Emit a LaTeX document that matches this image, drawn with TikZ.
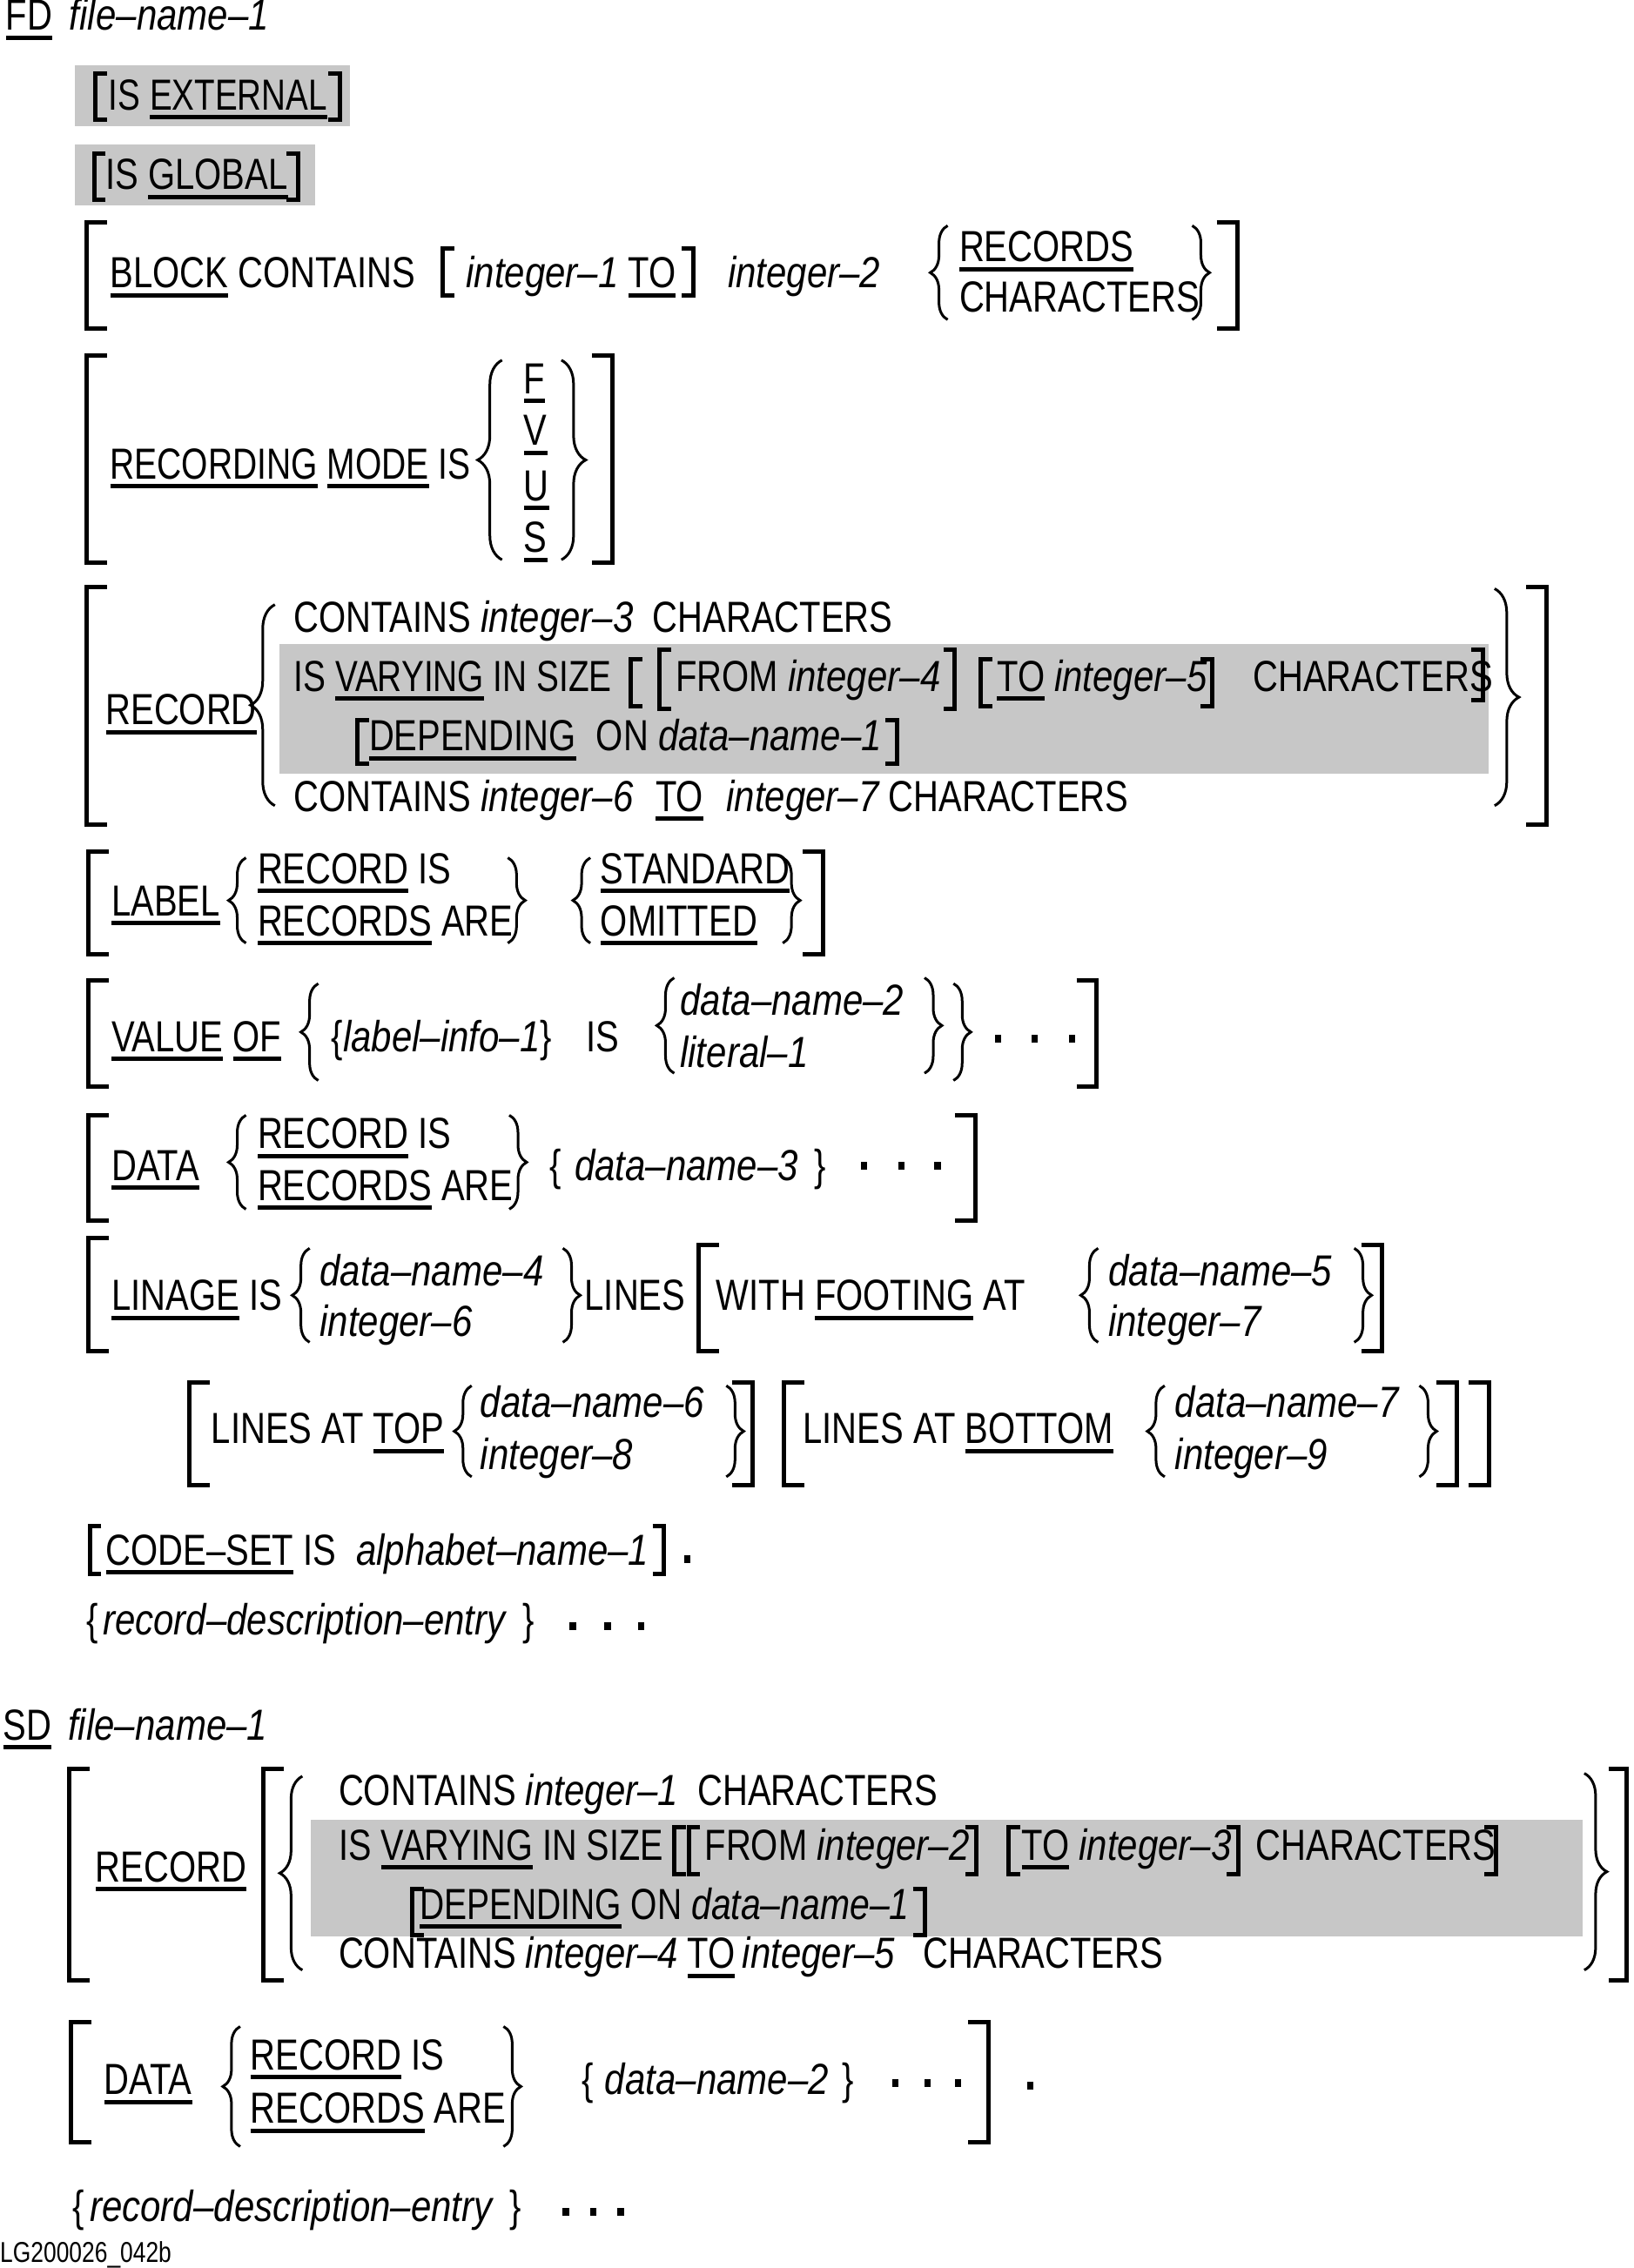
\documentclass[tikz,border=0pt]{standalone}
\usepackage{fontspec}
\setmainfont[FakeStretch=0.8,Ligatures=TeX]{Liberation Sans}
\newfontfamily\itfam[FakeStretch=0.84,Ligatures=TeX]{Liberation Sans}
\usetikzlibrary{decorations.pathreplacing}
\newcommand\kw[1]{\setbox0=\hbox{#1}\rlap{\vrule width\wd0 height -6pt depth 11pt}\box0\relax}
\newcommand\I[1]{{\itfam\itshape #1}}
\newcounter{tn}
\tikzset{
  t/.style={anchor=base west, inner sep=0pt, font=\fontsize{50}{60}\selectfont},
  brk/.style={line width=5pt, line join=miter},
  brc/.style={line width=3pt, decorate, decoration={brace, amplitude=#1}},
  brc/.default=20pt,
  shade/.style={fill=black!22},
}
\newcommand\T[3]{\stepcounter{tn}\node[t] (t\arabic{tn}) at (#1,#2) {#3};}
\newcommand\LB[4][8]{\draw[brk] (#2,#3) ++(#1,0) -- ++(-#1,0) -- (#2,#4) -- ++(#1,0);}
\newcommand\RB[4][8]{\draw[brk] (#2,#3) ++(-#1,0) -- ++(#1,0) -- (#2,#4) -- ++(-#1,0);}
\newcommand\LC[4][20pt]{\draw[brc=#1] (#2,#4) -- (#2,#3);}
\newcommand\RC[4][20pt]{\draw[brc=#1] (#2,#3) -- (#2,#4);}
\newcommand\Dot[2]{\fill (#1,#2) ++(-2.2,-2.7) rectangle ++(4.4,5.4);}
\begin{document}
\begin{tikzpicture}[x=1.6617pt,y=-1.6617pt]
\useasboundingbox (0,0) rectangle (1129,1568);
% shaded areas
\fill[shade] (52,45) rectangle (242,87);
\fill[shade] (52,100) rectangle (218,142);
\fill[shade] (193,445) rectangle (1029,535);
\fill[shade] (215,1258) rectangle (1094,1339);
% FD
\T{4}{21}{\kw{FD}}
\T{48}{21}{\I{file--name--1}}
% EXTERNAL
\LB{66}{51}{83}
\T{75}{76}{\scalebox{0.965}[1]{IS \kw{EXTERNAL}}}
\RB{235}{51}{83}
% GLOBAL
\LB{65}{106}{138}
\T{73}{131}{IS \kw{GLOBAL}}
\RB{206}{106}{138}
% BLOCK
\LB[14]{60}{154}{227}
\T{76}{199}{\kw{BLOCK} CONTAINS}
\LB{306}{172}{204}
\T{322}{199}{\I{integer--1} \kw{TO}}
\RB{479}{172}{204}
\T{503}{199}{\I{integer--2}}
\LC{655}{156}{221}
\T{663}{181}{\kw{RECORDS}}
\T{663}{216}{CHARACTERS}
\RC{824}{156}{221}
\RB[14]{855}{154}{227}
% RECORDING MODE
\LB[14]{60}{246}{389}
\T{76}{331}{\scalebox{0.975}[1]{\kw{RECORDING} \kw{MODE} IS}}
\LC[28pt]{347}{249}{387}
\T{362}{272}{\kw{F}}
\T{362}{308}{\kw{V}}
\T{362}{346}{\kw{U}}
\T{362}{382}{\kw{S}}
\RC[28pt]{388}{249}{387}
\RB[14]{423}{246}{389}
% RECORD
\LB[14]{60}{406}{570}
\T{73}{501}{\kw{RECORD}}
\LC[28pt]{190}{418}{557}
\T{203}{437}{CONTAINS \I{integer--3}\ \ CHARACTERS}
\T{203}{478}{\scalebox{0.97}[1]{IS \kw{VARYING} IN SIZE}}
\LB{436}{456}{488}
\LB{456}{449}{490}
\T{467}{478}{FROM \I{integer--4}}
\RB{660}{449}{490}
\LB{678}{456}{488}
\T{689}{478}{\kw{TO} \I{integer--5}}
\RB{838}{456}{488}
\T{866}{478}{CHARACTERS}
\RB{1025}{449}{484}
\LB{247}{498}{528}
\T{255}{519}{\kw{DEPENDING}}
\T{412}{519}{ON \I{data--name--1}}
\RB{620}{498}{528}
\T{203}{561}{CONTAINS \I{integer--6}}
\T{453}{561}{\kw{TO}}
\T{502}{561}{\I{integer--7} CHARACTERS}
\RC[28pt]{1033}{407}{557}
\RB[14]{1069}{406}{570}
% LABEL
\LB[14]{61}{589}{660}
\T{77}{633}{\kw{LABEL}}
\LC{170}{593}{652}
\T{178}{611}{\kw{RECORD} IS}
\T{178}{647}{\kw{RECORDS} ARE}
\RC{351}{593}{652}
\LC{408}{593}{652}
\T{415}{611}{\kw{STANDARD}}
\T{415}{647}{\kw{OMITTED}}
\RC{541}{593}{652}
\RB[14]{569}{589}{660}
% VALUE OF
\LB[14]{61}{678}{751}
\T{77}{727}{\kw{VALUE} \kw{OF}}
\LC{220}{680}{747}
\T{229}{727}{\{\I{label--info--1}\}}
\T{405}{727}{IS}
\LC{466}{676}{742}
\T{470}{702}{\I{data--name--2}}
\T{470}{738}{\I{literal--1}}
\RC{639}{676}{742}
\RC{659}{680}{747}
\Dot{690}{718}\Dot{715}{718}\Dot{741}{718}
\RB[14]{758}{678}{751}
% DATA
\LB[14]{61}{771}{844}
\T{77}{816}{\kw{DATA}}
\LC{170}{771}{836}
\T{178}{794}{\kw{RECORD} IS}
\T{178}{830}{\kw{RECORDS} ARE}
\RC{352}{771}{836}
\T{380}{816}{\{}
\T{397}{816}{\I{data--name--3}}
\T{563}{816}{\}}
\Dot{597}{806}\Dot{623}{806}\Dot{648}{806}
\RB[14]{674}{771}{844}
% LINAGE
\LB[14]{61}{856}{934}
\T{77}{906}{\kw{LINAGE} IS}
\LC{214}{863}{928}
\T{221}{889}{\I{data--name--4}}
\T{221}{924}{\I{integer--6}}
\RC{389}{863}{928}
\T{404}{906}{LINES}
\LB[14]{483}{861}{934}
\T{495}{906}{WITH \kw{FOOTING} AT}
\LC{759}{863}{928}
\T{766}{889}{\I{data--name--5}}
\T{766}{924}{\I{integer--7}}
\RC{936}{863}{928}
\RB[14]{955}{861}{934}
\LB[14]{131}{956}{1027}
\T{146}{998}{LINES AT \kw{TOP}}
\LC{326}{958}{1021}
\T{332}{980}{\I{data--name--6}}
\T{332}{1016}{\I{integer--8}}
\RC{502}{958}{1021}
\RB[14]{520}{956}{1027}
\LB[14]{542}{956}{1027}
\T{555}{998}{LINES AT \kw{BOTTOM}}
\LC{805}{958}{1021}
\T{812}{980}{\I{data--name--7}}
\T{812}{1016}{\I{integer--9}}
\RC{981}{958}{1021}
\RB[14]{1007}{956}{1027}
\RB[14]{1029}{956}{1027}
% CODE-SET
\LB{62}{1055}{1088}
\T{73}{1082}{\kw{CODE--SET} IS}
\T{246}{1082}{\I{alphabet--name--1}}
\RB{459}{1055}{1088}
\Dot{475}{1078}
\T{60}{1130}{\{}
\T{71}{1130}{\I{record--description--entry}}
\T{361}{1130}{\}}
\Dot{396}{1124}\Dot{420}{1124}\Dot{443}{1124}
% SD
\T{2}{1203}{\kw{SD}}
\T{47}{1203}{\I{file--name--1}}
\LB[14]{48}{1223}{1369}
\T{66}{1301}{\kw{RECORD}}
\LB[14]{182}{1223}{1369}
\LC[26pt]{209}{1228}{1362}
\T{234}{1248}{CONTAINS \I{integer--1}\ \ CHARACTERS}
\T{234}{1286}{\scalebox{0.99}[1]{IS \kw{VARYING} IN SIZE}}
\LB{466}{1263}{1296}
\LB{476}{1263}{1296}
\T{487}{1286}{FROM \I{integer--2}}
\RB{675}{1263}{1296}
\LB{697}{1263}{1296}
\T{706}{1286}{\kw{TO} \I{integer--3}}
\RB{856}{1263}{1296}
\T{868}{1286}{CHARACTERS}
\RB{1034}{1263}{1296}
\LB{285}{1306}{1338}
\T{290}{1327}{\scalebox{0.975}[1]{\kw{DEPENDING} ON \I{data--name--1}}}
\RB{639}{1306}{1338}
\T{234}{1361}{CONTAINS \I{integer--4}}
\T{475}{1361}{\kw{TO}}
\T{513}{1361}{\I{integer--5}}
\T{638}{1361}{CHARACTERS}
\RC[26pt]{1095}{1226}{1362}
\RB[12]{1124}{1223}{1369}
% SD DATA
\LB[14]{49}{1398}{1481}
\T{72}{1448}{\kw{DATA}}
\LC{166}{1401}{1484}
\T{173}{1431}{\kw{RECORD} IS}
\T{173}{1468}{\kw{RECORDS} ARE}
\RC{348}{1401}{1484}
\T{402}{1448}{\{}
\T{418}{1448}{\I{data--name--2}}
\T{582}{1448}{\}}
\Dot{619}{1440}\Dot{641}{1440}\Dot{662}{1440}
\RB[14]{683}{1398}{1481}
\Dot{712}{1442}
\T{50}{1536}{\{}
\T{62}{1536}{\I{record--description--entry}}
\T{352}{1536}{\}}
\Dot{391}{1529}\Dot{410}{1529}\Dot{429}{1529}
\node[anchor=base west, inner sep=0pt, font=\fontsize{33}{40}\selectfont] (lg) at (0,1564) {LG200026\_042b};
\end{tikzpicture}
\end{document}
